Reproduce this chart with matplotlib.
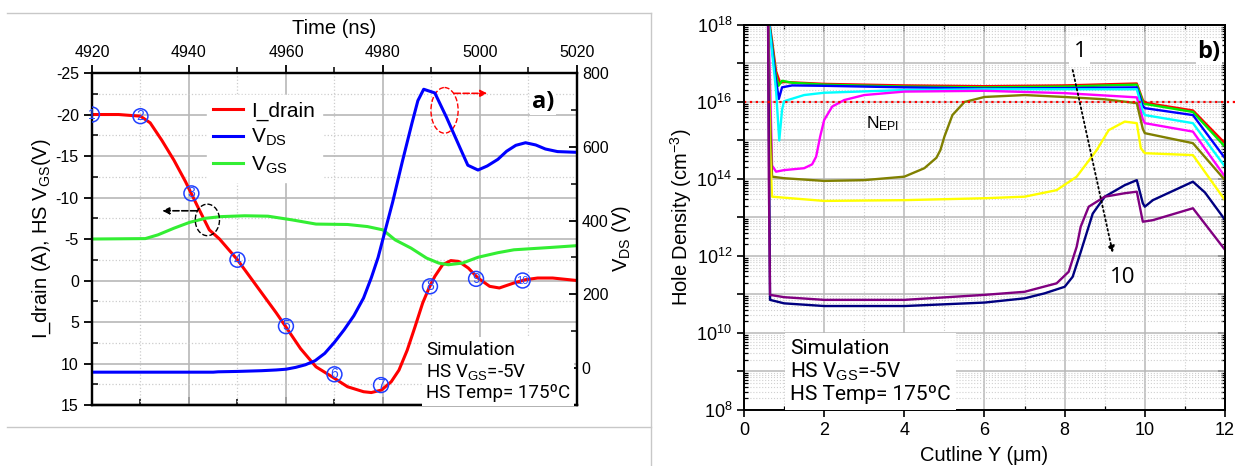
import numpy as np
import matplotlib
matplotlib.use('Agg')
import matplotlib.pyplot as plt
from matplotlib.patches import Ellipse
from matplotlib.lines import Line2D
from matplotlib.ticker import MultipleLocator, FixedLocator, FuncFormatter, LogLocator, NullFormatter

plt.rcParams['font.family'] = ['Liberation Sans', 'DejaVu Sans']
plt.rcParams['mathtext.fontset'] = 'custom'
plt.rcParams['mathtext.rm'] = 'Liberation Sans'
plt.rcParams['mathtext.it'] = 'Liberation Sans:italic'
plt.rcParams['mathtext.bf'] = 'Liberation Sans:bold'
plt.rcParams['axes.unicode_minus'] = False

# ---- panel a) data ----
time_ticks = [4920, 4940, 4960, 4980, 5000, 5020]
left_ticks = [-25, -20, -15, -10, -5, 0, 5, 10, 15]
vds_ticks = [0, 200, 400, 600, 800]

t_id = [4920, 4925.5, 4930, 4932, 4934.4, 4936.9, 4939.3, 4941.8, 4944.2, 4946.3,
        4950, 4954, 4958, 4960, 4963, 4966.2, 4969.5, 4972.7, 4976, 4977.6,
        4979.7, 4981.7, 4983.3, 4985, 4986.6, 4988.2, 4989.5, 4990.7, 4992.3, 4994,
        4995.6, 4997.6, 4999.6, 5002, 5004, 5007, 5009.4, 5011.9, 5015, 5020]
i_drain = [-20, -20, -19.8, -19, -16.9, -14.5, -11.9, -8.9, -6.1, -5.0,
           -2.5, 0.7, 3.9, 5.6, 8.2, 10.4, 11.6, 12.8, 13.4, 13.5,
           13.2, 12.2, 10.8, 8.4, 5.6, 2.7, 0.9, -0.5, -1.9, -2.4,
           -2.3, -1.5, -0.3, 0.7, 0.9, 0.3, -0.1, -0.3, -0.3, 0.0]

t_vds = [4920, 4945, 4946, 4950, 4955, 4958, 4960, 4962, 4964, 4966, 4968,
         4970, 4972, 4974, 4976, 4977.6, 4979, 4980, 4982, 4984, 4986,
         4987.2, 4988.4, 4990.7, 4993.1, 4996, 4997.5, 4999.6, 5001.5, 5003.7,
         5005.5, 5007.4, 5009.4, 5011.5, 5013.5, 5016, 5020]
vds = [-11, -11, -10, -9, -7, -5, -3, 2, 9, 20, 40,
       70, 104, 142, 190, 245, 300, 350, 450, 560, 665,
       725, 756, 746, 680, 594, 550, 537, 548, 566,
       588, 604, 611, 605, 594, 587, 585]

t_vgs = [4920, 4931, 4933.6, 4936.9, 4940.1, 4943.4, 4946.7, 4951.5, 4956.3, 4961.3,
         4966.2, 4972.7, 4976.8, 4980, 4982.5, 4985.8, 4989, 4991.5, 4993.5, 4996.4,
         4999.6, 5003.7, 5007, 5015, 5020]
vgs = [-5.0, -5.05, -5.5, -6.3, -7.0, -7.5, -7.7, -7.8, -7.75, -7.3,
       -6.8, -6.75, -6.5, -6.1, -4.9, -3.9, -2.7, -2.1, -1.9, -2.1,
       -2.8, -3.35, -3.7, -4.0, -4.2]

mark_t = [4920, 4930, 4940.5, 4950, 4960, 4970, 4979.6, 4989.7, 4999.2, 5008.8]
mark_i = [-20, -19.8, -10.5, -2.5, 5.5, 11.3, 12.6, 0.7, -0.2, 0.0]
mark_lbl = ['1', '2', '3', '4', '5', '6', '7', '8', '9', '10']

# ---- panel b) data (x in um, log10 of hole density) ----
cut_ticks = [0, 2, 4, 6, 8, 10, 12]

red_x = [0.6, 0.7, 0.8, 0.9, 1.0, 2, 4, 6, 8, 9.8, 9.95, 10.0, 11.2, 12.0]
red_l = [18.3, 17.6, 16.8, 16.5, 16.52, 16.47, 16.43, 16.41, 16.43, 16.48, 16.05, 15.98, 15.78, 14.93]
green_x = [0.6, 0.7, 0.78, 0.86, 0.95, 1.2, 2, 4, 6, 8, 9.8, 9.95, 10.0, 11.2, 12.0]
green_l = [18.3, 17.5, 16.8, 16.42, 16.55, 16.5, 16.45, 16.4, 16.38, 16.4, 16.45, 16.0, 15.95, 15.74, 14.84]
blue_x = [0.6, 0.7, 0.78, 0.87, 0.95, 1.2, 2, 4, 6, 8, 9.8, 9.95, 10.0, 11.2, 12.0]
blue_l = [18.3, 17.4, 16.7, 16.08, 16.38, 16.43, 16.42, 16.38, 16.35, 16.36, 16.38, 15.9, 15.84, 15.66, 14.54]
cyan_x = [0.6, 0.7, 0.8, 0.88, 0.95, 1.0, 1.5, 2, 4, 6, 8, 9.8, 9.95, 10.0, 11.2, 12.0]
cyan_l = [18.3, 17.3, 16.3, 15.0, 15.8, 16.02, 16.18, 16.24, 16.31, 16.33, 16.33, 16.33, 15.75, 15.66, 15.45, 14.32]
mag_x = [0.6, 0.65, 0.7, 0.8, 1.0, 1.5, 1.7, 1.8, 1.9, 2.0, 2.2, 2.5, 3, 4, 6, 8, 9.8, 9.95, 10.0, 11.2, 12.0]
mag_l = [18.3, 16.5, 14.35, 14.19, 14.23, 14.28, 14.38, 14.58, 15.1, 15.53, 15.88, 16.05, 16.18, 16.27, 16.29, 16.23, 16.12, 15.55, 15.45, 15.23, 14.06]
olive_x = [0.6, 0.64, 0.7, 1.0, 2, 3, 4, 4.5, 4.8, 4.9, 5.0, 5.2, 5.5, 6, 7, 8, 9, 9.8, 9.95, 10.0, 11.2, 12.0]
olive_l = [18.3, 16.0, 14.06, 14.02, 13.95, 13.97, 14.06, 14.28, 14.55, 14.75, 15.1, 15.66, 16.0, 16.13, 16.18, 16.13, 16.07, 15.97, 15.3, 15.19, 14.93, 13.97]
yellow_x = [0.6, 0.64, 0.7, 2, 4, 6, 7, 7.8, 8.3, 8.8, 9.1, 9.5, 9.8, 9.9, 10.0, 11.2, 12.0]
yellow_l = [18.3, 15.0, 13.54, 13.43, 13.45, 13.5, 13.54, 13.71, 14.06, 14.75, 15.27, 15.49, 15.45, 14.8, 14.67, 14.62, 13.45]
navy_x = [0.6, 0.63, 0.65, 1, 2, 4, 6, 7, 7.5, 8, 8.2, 8.4, 8.55, 8.7, 9, 9.5, 9.8, 9.95, 10.0, 10.2, 11.2, 11.5, 12.0]
navy_l = [18.3, 14.0, 10.86, 10.77, 10.7, 10.7, 10.79, 10.9, 11.03, 11.2, 11.46, 12.1, 12.6, 13.1, 13.54, 13.84, 13.97, 13.37, 13.28, 13.45, 13.93, 13.65, 12.94]
purple_x = [0.6, 0.62, 0.65, 1, 2, 4, 6, 7, 7.8, 8.1, 8.3, 8.4, 8.6, 9, 9.5, 9.8, 9.95, 10.2, 11.2, 12.0]
purple_l = [18.3, 14.0, 10.99, 10.93, 10.86, 10.86, 10.99, 11.07, 11.29, 11.59, 12.24, 12.76, 13.28, 13.54, 13.63, 13.67, 12.89, 12.93, 13.24, 12.16]

fig = plt.figure(figsize=(12.41, 4.66), dpi=100)

# ================= panel a) =================
ax = fig.add_axes([0.0741, 0.1309, 0.3908, 0.7124])
ax.set_xlim(4920, 5020)
ax.set_ylim(15, -25)
ax.xaxis.tick_top()
ax.xaxis.set_label_position('top')
ax.set_xlabel('Time (ns)', fontsize=14.5, labelpad=8)
ax.set_xticks(time_ticks)
ax.xaxis.set_minor_locator(MultipleLocator(10))
ax.set_yticks(left_ticks)
ax.yaxis.set_minor_locator(MultipleLocator(2.5))
ax.tick_params(which='major', direction='out', length=6, width=1.3, labelsize=11.5)
ax.tick_params(which='minor', direction='in', length=4, width=1.1)
ax.tick_params(axis='x', which='minor', direction='out')
ax.set_ylabel('I_drain (A), HS V$_{\\mathrm{GS}}$(V)', fontsize=14.5, labelpad=2)
ax.grid(which='major', color='#b8b8b8', lw=1.2)
ax.grid(which='minor', color='#cccccc', lw=0.9, ls=':')
ax.set_axisbelow(True)
for s in ax.spines.values():
    s.set_linewidth(1.6)

sec = ax.secondary_xaxis('bottom')
sec.set_xticks(time_ticks)
sec.xaxis.set_minor_locator(MultipleLocator(10))
sec.tick_params(which='major', direction='in', length=6, width=1.3, labelbottom=False)
sec.tick_params(which='minor', direction='in', length=4, width=1.1)
sec.spines['bottom'].set_linewidth(1.6)

l_id, = ax.plot(t_id, i_drain, color='#ff0000', lw=2.2)
l_gs, = ax.plot(t_vgs, vgs, color='#33ee33', lw=2.2)

ax2 = ax.twinx()
ax2.set_ylim(-100, 800)
ax2.set_yticks(vds_ticks)
ax2.yaxis.set_minor_locator(MultipleLocator(100))
ax2.tick_params(which='major', direction='in', length=6, width=1.3, labelsize=11.5)
ax2.tick_params(which='minor', direction='in', length=4, width=1.1)
ax2.set_ylabel('V$_{\\mathrm{DS}}$ (V)', fontsize=14.5, labelpad=1)
for s in ax2.spines.values():
    s.set_linewidth(1.6)
l_ds, = ax2.plot(t_vds, vds, color='#0000ff', lw=2.2)

# numbered state markers on the drain current (left axis units)
ax2.scatter(mark_t, mark_i, s=115, facecolors='none', edgecolors='#2040ff', linewidths=1.1,
            zorder=5, transform=ax.transData)
for mt, mi, ml in zip(mark_t, mark_i, mark_lbl):
    ax2.text(mt, mi, ml, transform=ax.transData, ha='center', va='center', color='#2a4cff',
             fontsize=10 if len(ml) == 1 else 8, zorder=6)

ax2.add_patch(Ellipse((4943.8, -7.3), 5, 3.8, fill=False, ls='--', ec='k', lw=1.0,
                      transform=ax.transData))
ax2.annotate('', xy=(4934.5, -8.4), xytext=(4941.6, -8.4), xycoords=ax.transData,
             textcoords=ax.transData,
             arrowprops=dict(arrowstyle='-|>', ls='--', color='k', lw=1.2,
                             shrinkA=0, shrinkB=0, mutation_scale=10))
ax2.add_patch(Ellipse((4992.7, -20.5), 5.6, 5.5, fill=False, ls='--', ec='#ff0000', lw=1.0,
                      transform=ax.transData))
ax2.annotate('', xy=(5001.5, -22.55), xytext=(4994.7, -22.55), xycoords=ax.transData,
             textcoords=ax.transData,
             arrowprops=dict(arrowstyle='-|>', ls='--', color='#ff0000', lw=1.2,
                             shrinkA=0, shrinkB=0, mutation_scale=10))

leg = ax2.legend([l_id, l_ds, l_gs], ['I_drain', 'V$_{\\mathrm{DS}}$', 'V$_{\\mathrm{GS}}$'],
                 loc='upper left', bbox_to_anchor=(0.215, 0.965), fontsize=15,
                 frameon=True, fancybox=False, framealpha=1, edgecolor='white',
                 handlelength=1.45, handletextpad=0.4, labelspacing=0.3, borderpad=0.3)

ax2.text(0.93, 0.913, 'a)', transform=ax2.transAxes, fontsize=17, fontweight='bold',
         ha='center', va='center', family=['Open Sans', 'DejaVu Sans'],
         bbox=dict(facecolor='white', edgecolor='none', pad=1))
ax2.text(0.689, 0.01, 'Simulation\nHS V$_{\\mathrm{GS}}$=-5V\nHS Temp= 175ºC',
         transform=ax2.transAxes, fontsize=13.5, ha='left', va='bottom', linespacing=1.15,
         family=['Roboto', 'DejaVu Sans'],
         bbox=dict(facecolor='white', edgecolor='none', pad=3))

# ================= panel b) =================
bx = fig.add_axes([0.5995, 0.1202, 0.3876, 0.8262])
bx.set_yscale('log')
bx.set_xlim(0, 12)
bx.set_ylim(1e8, 1e18)
bx.set_xticks(cut_ticks)
bx.xaxis.set_minor_locator(MultipleLocator(1))
bx.yaxis.set_major_locator(FixedLocator(10.0 ** np.arange(8, 19)))
bx.yaxis.set_major_formatter(FuncFormatter(
    lambda v, p: '$10^{%d}$' % round(np.log10(v)) if round(np.log10(v)) % 2 == 0 else ''))
bx.yaxis.set_minor_locator(LogLocator(base=10, subs=np.arange(2, 10), numticks=100))
bx.yaxis.set_minor_formatter(NullFormatter())
bx.tick_params(which='major', direction='out', length=5, width=1.2, labelsize=13)
bx.tick_params(which='minor', direction='in', length=3, width=0.9)
bx.grid(which='major', color='#b8b8b8', lw=1.1)
bx.grid(which='minor', color='#d0d0d0', lw=0.8, ls=':')
bx.set_axisbelow(True)
for s in bx.spines.values():
    s.set_linewidth(1.4)
bx.set_xlabel('Cutline Y (μm)', fontsize=14.5, labelpad=5)
bx.set_ylabel('Hole Density (cm$^{-3}$)', fontsize=14.5, labelpad=2)

sy = bx.secondary_yaxis('right')
sy.yaxis.set_major_locator(FixedLocator(10.0 ** np.arange(8, 19)))
sy.yaxis.set_minor_locator(LogLocator(base=10, subs=np.arange(2, 10), numticks=100))
sy.tick_params(which='major', direction='in', length=5, width=1.2, labelright=False)
sy.tick_params(which='minor', direction='in', length=3, width=0.9, labelright=False)
sy.spines['right'].set_linewidth(1.4)
sxt = bx.secondary_xaxis('top')
sxt.set_xticks(cut_ticks)
sxt.xaxis.set_minor_locator(MultipleLocator(1))
sxt.tick_params(which='major', direction='in', length=5, width=1.2, labeltop=False)
sxt.tick_params(which='minor', direction='in', length=3, width=0.9, labeltop=False)
sxt.spines['top'].set_linewidth(1.4)

curves = [(red_x, red_l, '#ff0000'), (green_x, green_l, '#00ee00'), (blue_x, blue_l, '#0000ff'),
          (cyan_x, cyan_l, '#00ffff'), (mag_x, mag_l, '#ff00ff'), (olive_x, olive_l, '#808000'),
          (yellow_x, yellow_l, '#ffff00'), (navy_x, navy_l, '#000080'), (purple_x, purple_l, '#800080')]
for cx, cl, cc in curves:
    bx.plot(cx, 10.0 ** np.array(cl), color=cc, lw=1.7)

bx.axhline(1e16, xmin=0, xmax=1.02, color='#ff0000', ls=':', lw=1.6, clip_on=False)
bx.text(3.45, 10 ** 15.45, 'N$_{\\mathrm{EPI}}$', fontsize=12.5, ha='center', va='center')
bx.annotate('', xy=(9.2, 10 ** 12.08), xytext=(8.2, 10 ** 16.83),
            arrowprops=dict(arrowstyle='-|>', ls=':', color='k', lw=1.3,
                            shrinkA=0, shrinkB=0, mutation_scale=10))
bx.text(8.38, 10 ** 17.3, '1', fontsize=16, ha='center', va='center',
        family=['Open Sans', 'DejaVu Sans'],
        bbox=dict(facecolor='white', edgecolor='none', pad=3))
bx.text(9.45, 10 ** 11.43, '10', fontsize=16, ha='center', va='center',
        family=['Open Sans', 'DejaVu Sans'],
        bbox=dict(facecolor='white', edgecolor='none', pad=3))
bx.text(11.6, 10 ** 17.3, 'b)', fontsize=17, fontweight='bold', ha='center', va='center',
        family=['Open Sans', 'DejaVu Sans'],
        bbox=dict(facecolor='white', edgecolor='none', pad=1))
bx.text(0.096, 0.015, 'Simulation\nHS V$_{\\mathrm{GS}}$=-5V\nHS Temp= 175ºC',
        transform=bx.transAxes, fontsize=15, ha='left', va='bottom', linespacing=1.15,
        family=['Roboto', 'DejaVu Sans'],
        bbox=dict(facecolor='white', edgecolor='none', pad=4))

# panel frame lines
fig.add_artist(Line2D([7 / 1241, 651 / 1241], [1 - 13 / 466] * 2, transform=fig.transFigure,
                      color='#c8c8c8', lw=1))
fig.add_artist(Line2D([7 / 1241, 651 / 1241], [1 - 427 / 466] * 2, transform=fig.transFigure,
                      color='#c8c8c8', lw=1))
fig.add_artist(Line2D([651 / 1241] * 2, [1 - 13 / 466, 0], transform=fig.transFigure,
                      color='#c8c8c8', lw=1))

fig.savefig('out.png', dpi=100)
